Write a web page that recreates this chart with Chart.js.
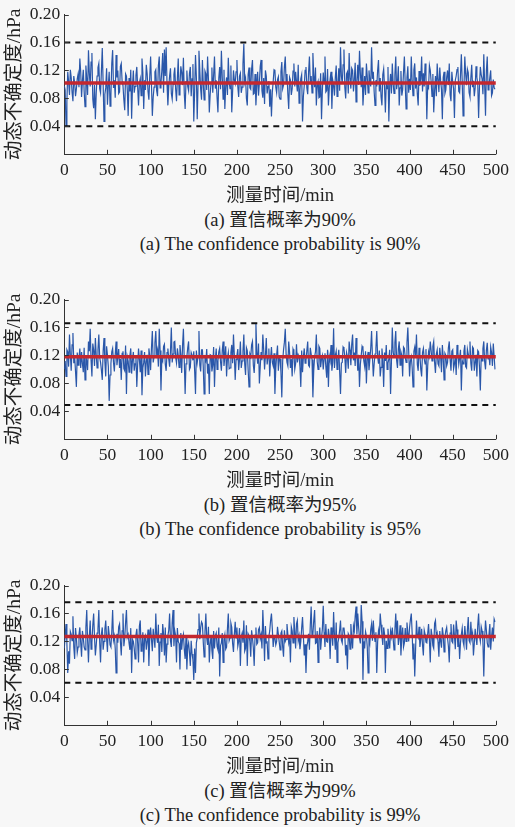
<!DOCTYPE html>
<html><head><meta charset="utf-8">
<script src="https://cdn.jsdelivr.net/npm/chart.js@4.4.1/dist/chart.umd.min.js"></script>
<style>
html,body{margin:0;padding:0;background:#f7f7f7;}
body{width:515px;height:827px;position:relative;overflow:hidden;font-family:"Liberation Serif","Noto Sans CJK SC",serif;color:#222;}
.panel{position:absolute;left:0;width:515px;height:207px;}
.cap{position:absolute;left:60px;width:440px;text-align:center;font-size:18.5px;line-height:22px;white-space:nowrap;}
</style></head><body>
<div class="panel" style="top:0px"><canvas id="ca" width="515" height="207"></canvas></div>
<div class="cap" style="top:209px">(a) 置信概率为90%</div>
<div class="cap" style="top:233px">(a) The confidence probability is 90%</div>
<div class="panel" style="top:285.4px"><canvas id="cb" width="515" height="207"></canvas></div>
<div class="cap" style="top:494.4px">(b) 置信概率为95%</div>
<div class="cap" style="top:518.4px">(b) The confidence probability is 95%</div>
<div class="panel" style="top:571px"><canvas id="cc" width="515" height="207"></canvas></div>
<div class="cap" style="top:780px">(c) 置信概率为99%</div>
<div class="cap" style="top:804px">(c) The confidence probability is 99%</div>
<script>
const SAMPLE_STEP_MIN = 1;
const xTickValues = [0,50,100,150,200,250,300,350,400,450,500];
const yTickValues = [0.04,0.08,0.12,0.16,0.20];
const xTitle = '测量时间/min';
const yTitle = '动态不确定度/hPa';

const seriesA = [
0.098,0.092,0.041,0.075,0.118,0.104,0.085,0.121,0.110,0.089,0.076,0.112,0.102,0.083,0.094,0.108,0.115,0.096,0.137,0.118,
0.082,0.105,0.121,0.090,0.068,0.127,0.108,0.085,0.149,0.116,0.097,0.132,0.145,0.079,0.066,0.099,0.050,0.088,0.112,0.124,
0.130,0.094,0.088,0.119,0.152,0.101,0.047,0.086,0.095,0.123,0.071,0.098,0.118,0.069,0.084,0.130,0.149,0.095,0.106,0.081,
0.142,0.110,0.120,0.087,0.089,0.126,0.130,0.104,0.098,0.078,0.063,0.115,0.112,0.092,0.055,0.109,0.090,0.121,0.051,0.097,
0.120,0.088,0.097,0.113,0.125,0.096,0.070,0.102,0.108,0.084,0.137,0.117,0.065,0.106,0.092,0.128,0.115,0.090,0.078,0.111,
0.140,0.099,0.055,0.082,0.096,0.118,0.121,0.091,0.083,0.127,0.140,0.095,0.102,0.120,0.145,0.088,0.150,0.112,0.153,0.101,
0.070,0.096,0.112,0.123,0.087,0.079,0.100,0.114,0.124,0.093,0.076,0.108,0.137,0.085,0.098,0.126,0.117,0.099,0.138,0.087,
0.065,0.104,0.120,0.097,0.091,0.116,0.125,0.083,0.108,0.129,0.047,0.090,0.142,0.111,0.050,0.102,0.148,0.120,0.093,0.078,
0.135,0.101,0.078,0.119,0.115,0.092,0.140,0.107,0.060,0.086,0.102,0.124,0.088,0.113,0.140,0.094,0.106,0.081,0.060,0.109,
0.125,0.093,0.148,0.110,0.079,0.121,0.065,0.098,0.110,0.085,0.138,0.103,0.094,0.127,0.060,0.090,0.120,0.106,0.101,0.118,
0.135,0.097,0.082,0.112,0.116,0.088,0.096,0.129,0.158,0.103,0.109,0.080,0.070,0.114,0.124,0.095,0.093,0.122,0.135,0.086,
0.087,0.115,0.070,0.098,0.118,0.084,0.102,0.126,0.135,0.091,0.081,0.109,0.072,0.120,0.112,0.087,0.097,0.105,0.068,0.093,
0.054,0.089,0.104,0.121,0.120,0.096,0.088,0.107,0.111,0.082,0.079,0.118,0.132,0.094,0.099,0.125,0.140,0.101,0.115,0.086,
0.065,0.110,0.106,0.085,0.094,0.119,0.130,0.097,0.118,0.104,0.090,0.128,0.073,0.092,0.108,0.114,0.047,0.083,0.098,0.120,
0.125,0.095,0.086,0.117,0.140,0.102,0.112,0.088,0.145,0.113,0.096,0.124,0.070,0.099,0.104,0.081,0.082,0.116,0.050,0.092,
0.117,0.103,0.140,0.089,0.091,0.122,0.070,0.095,0.108,0.118,0.065,0.106,0.099,0.084,0.110,0.127,0.083,0.100,0.123,0.091,
0.153,0.112,0.101,0.128,0.150,0.096,0.080,0.115,0.118,0.087,0.145,0.109,0.094,0.123,0.120,0.090,0.107,0.131,0.075,0.104,
0.128,0.099,0.148,0.116,0.096,0.124,0.070,0.093,0.112,0.085,0.130,0.111,0.088,0.120,0.105,0.097,0.153,0.108,0.118,0.089,
0.070,0.106,0.097,0.120,0.135,0.090,0.109,0.082,0.070,0.114,0.122,0.096,0.060,0.103,0.094,0.125,0.047,0.098,0.115,0.087,
0.130,0.101,0.087,0.113,0.140,0.093,0.103,0.126,0.070,0.095,0.119,0.084,0.092,0.117,0.140,0.099,0.065,0.110,0.126,0.088,
0.108,0.092,0.140,0.105,0.084,0.121,0.130,0.094,0.110,0.086,0.070,0.119,0.098,0.108,0.140,0.090,0.116,0.097,0.130,0.112,
0.050,0.098,0.095,0.127,0.120,0.104,0.083,0.115,0.060,0.091,0.112,0.083,0.130,0.107,0.089,0.124,0.105,0.093,0.050,0.110,
0.118,0.087,0.092,0.110,0.120,0.099,0.130,0.085,0.076,0.118,0.103,0.094,0.052,0.106,0.112,0.121,0.125,0.090,0.088,0.113,
0.143,0.104,0.055,0.093,0.140,0.115,0.099,0.122,0.117,0.088,0.082,0.109,0.128,0.096,0.105,0.083,0.095,0.126,0.110,0.101,
0.052,0.097,0.125,0.114,0.108,0.086,0.143,0.101,0.055,0.119,0.140,0.092,0.097,0.110,0.120,0.084,0.088,0.107,0.095,0.093];
const meanA = 0.102, upperA = 0.160, lowerA = 0.040;

const seriesB = [
0.100,0.112,0.090,0.128,0.125,0.104,0.150,0.121,0.098,0.135,0.152,0.109,0.118,0.097,0.075,0.124,0.106,0.116,0.130,0.102,
0.125,0.108,0.096,0.131,0.085,0.119,0.112,0.099,0.140,0.126,0.158,0.113,0.090,0.137,0.128,0.105,0.145,0.120,0.102,0.128,
0.150,0.117,0.110,0.099,0.085,0.126,0.145,0.111,0.090,0.133,0.120,0.104,0.055,0.092,0.108,0.125,0.130,0.110,0.097,0.121,
0.140,0.106,0.118,0.129,0.102,0.115,0.085,0.123,0.126,0.101,0.098,0.134,0.065,0.118,0.112,0.096,0.120,0.130,0.094,0.113,
0.125,0.098,0.108,0.120,0.075,0.107,0.130,0.114,0.096,0.127,0.063,0.102,0.110,0.125,0.090,0.111,0.121,0.093,0.130,0.119,
0.099,0.131,0.155,0.110,0.118,0.138,0.155,0.122,0.128,0.104,0.158,0.127,0.070,0.116,0.112,0.133,0.136,0.107,0.098,0.124,
0.130,0.115,0.104,0.126,0.160,0.110,0.122,0.139,0.140,0.117,0.109,0.130,0.120,0.103,0.135,0.121,0.095,0.134,0.158,0.112,
0.065,0.108,0.118,0.131,0.140,0.100,0.103,0.124,0.120,0.113,0.126,0.098,0.065,0.127,0.110,0.119,0.155,0.106,0.097,0.128,
0.128,0.103,0.065,0.116,0.112,0.129,0.094,0.108,0.065,0.121,0.120,0.097,0.106,0.132,0.075,0.114,0.130,0.100,0.112,0.125,
0.130,0.111,0.098,0.127,0.140,0.105,0.118,0.133,0.090,0.116,0.124,0.101,0.102,0.124,0.135,0.109,0.150,0.120,0.085,0.114,
0.120,0.129,0.099,0.114,0.140,0.102,0.112,0.126,0.150,0.108,0.092,0.131,0.127,0.099,0.075,0.122,0.118,0.135,0.140,0.106,
0.095,0.118,0.166,0.125,0.108,0.137,0.080,0.104,0.125,0.113,0.150,0.128,0.100,0.119,0.145,0.107,0.118,0.130,0.090,0.116,
0.132,0.110,0.105,0.123,0.065,0.101,0.120,0.134,0.098,0.117,0.115,0.096,0.060,0.112,0.128,0.139,0.158,0.121,0.110,0.105,
0.140,0.124,0.102,0.115,0.090,0.129,0.125,0.100,0.108,0.136,0.110,0.121,0.118,0.104,0.075,0.127,0.096,0.118,0.130,0.109,
0.112,0.127,0.140,0.106,0.104,0.131,0.122,0.114,0.060,0.099,0.118,0.125,0.150,0.111,0.100,0.133,0.130,0.103,0.115,0.120,
0.100,0.116,0.123,0.104,0.088,0.128,0.075,0.119,0.112,0.135,0.098,0.110,0.159,0.102,0.120,0.126,0.100,0.114,0.128,0.097,
0.065,0.109,0.110,0.132,0.130,0.117,0.095,0.124,0.118,0.101,0.140,0.128,0.106,0.136,0.150,0.113,0.124,0.105,0.145,0.122,
0.098,0.121,0.075,0.107,0.120,0.133,0.130,0.112,0.104,0.126,0.080,0.115,0.125,0.099,0.114,0.130,0.155,0.118,0.090,0.108,
0.122,0.130,0.155,0.119,0.108,0.127,0.090,0.103,0.130,0.114,0.075,0.124,0.112,0.135,0.100,0.109,0.115,0.128,0.065,0.111,
0.160,0.125,0.118,0.138,0.155,0.113,0.102,0.129,0.140,0.106,0.125,0.120,0.090,0.132,0.130,0.117,0.110,0.138,0.160,0.126,
0.090,0.112,0.118,0.103,0.075,0.126,0.132,0.118,0.150,0.107,0.098,0.131,0.120,0.100,0.090,0.124,0.130,0.115,0.108,0.129,
0.070,0.104,0.125,0.119,0.140,0.127,0.112,0.133,0.140,0.110,0.095,0.122,0.128,0.108,0.105,0.131,0.118,0.096,0.135,0.117,
0.085,0.123,0.120,0.105,0.110,0.131,0.140,0.114,0.098,0.126,0.128,0.101,0.108,0.119,0.092,0.135,0.125,0.107,0.116,0.128,
0.070,0.113,0.108,0.126,0.135,0.104,0.102,0.129,0.122,0.117,0.140,0.109,0.098,0.132,0.130,0.098,0.110,0.121,0.090,0.127,
0.125,0.103,0.070,0.119,0.112,0.130,0.140,0.111,0.100,0.127,0.138,0.115,0.120,0.106,0.132,0.124,0.105,0.137,0.118,0.100];
const meanB = 0.118, upperB = 0.166, lowerB = 0.049;

const seriesC = [
0.110,0.128,0.145,0.117,0.075,0.106,0.088,0.134,0.130,0.121,0.156,0.112,0.095,0.139,0.125,0.104,0.112,0.130,0.140,0.118,
0.098,0.135,0.125,0.112,0.108,0.140,0.165,0.121,0.090,0.127,0.150,0.109,0.118,0.143,0.160,0.126,0.100,0.115,0.132,0.138,
0.165,0.119,0.090,0.131,0.140,0.108,0.120,0.137,0.150,0.124,0.105,0.142,0.130,0.115,0.112,0.133,0.165,0.122,0.128,0.110,
0.075,0.131,0.118,0.141,0.145,0.120,0.100,0.135,0.160,0.113,0.125,0.147,0.165,0.126,0.130,0.118,0.108,0.139,0.075,0.123,
0.120,0.110,0.095,0.129,0.138,0.117,0.090,0.142,0.150,0.106,0.112,0.133,0.090,0.124,0.128,0.108,0.120,0.137,0.085,0.126,
0.140,0.122,0.106,0.138,0.125,0.111,0.160,0.127,0.118,0.144,0.085,0.119,0.132,0.105,0.145,0.131,0.100,0.140,0.090,0.116,
0.128,0.136,0.160,0.121,0.112,0.147,0.165,0.113,0.135,0.128,0.090,0.139,0.120,0.117,0.080,0.132,0.108,0.124,0.130,0.109,
0.095,0.126,0.080,0.112,0.118,0.104,0.085,0.121,0.102,0.094,0.065,0.110,0.075,0.118,0.125,0.137,0.160,0.123,0.140,0.148,
0.145,0.119,0.098,0.134,0.160,0.125,0.115,0.141,0.090,0.116,0.128,0.107,0.095,0.135,0.110,0.128,0.132,0.113,0.108,0.140,
0.070,0.114,0.118,0.132,0.090,0.123,0.130,0.109,0.112,0.138,0.160,0.121,0.125,0.146,0.140,0.117,0.105,0.130,0.148,0.125,
0.140,0.113,0.120,0.139,0.085,0.127,0.132,0.118,0.150,0.106,0.110,0.143,0.085,0.131,0.128,0.120,0.098,0.136,0.125,0.111,
0.085,0.129,0.140,0.116,0.118,0.137,0.140,0.124,0.130,0.110,0.165,0.133,0.092,0.142,0.118,0.119,0.095,0.127,0.135,0.150,
0.160,0.138,0.112,0.127,0.125,0.115,0.120,0.141,0.130,0.119,0.108,0.132,0.135,0.112,0.098,0.136,0.120,0.123,0.145,0.130,
0.118,0.126,0.090,0.141,0.135,0.118,0.155,0.134,0.110,0.145,0.150,0.121,0.128,0.109,0.120,0.139,0.155,0.127,0.100,0.116,
0.075,0.112,0.120,0.131,0.108,0.143,0.170,0.126,0.130,0.150,0.165,0.117,0.118,0.135,0.090,0.122,0.140,0.108,0.125,0.138,
0.171,0.133,0.112,0.145,0.120,0.119,0.138,0.127,0.095,0.140,0.130,0.114,0.162,0.128,0.108,0.147,0.090,0.118,0.125,0.136,
0.150,0.122,0.118,0.139,0.140,0.127,0.100,0.115,0.080,0.131,0.128,0.109,0.145,0.124,0.110,0.142,0.135,0.156,0.170,0.130,
0.160,0.140,0.125,0.117,0.172,0.149,0.065,0.120,0.110,0.134,0.128,0.112,0.075,0.126,0.118,0.137,0.145,0.121,0.150,0.130,
0.120,0.133,0.075,0.119,0.135,0.126,0.160,0.144,0.128,0.115,0.140,0.131,0.075,0.121,0.110,0.138,0.120,0.110,0.135,0.127,
0.140,0.124,0.108,0.136,0.160,0.129,0.150,0.115,0.125,0.143,0.100,0.126,0.140,0.112,0.118,0.139,0.120,0.147,0.132,0.120,
0.140,0.151,0.160,0.132,0.095,0.117,0.070,0.109,0.150,0.128,0.125,0.141,0.112,0.123,0.138,0.115,0.100,0.136,0.130,0.119,
0.118,0.131,0.145,0.122,0.090,0.138,0.128,0.114,0.110,0.146,0.150,0.127,0.132,0.119,0.098,0.135,0.120,0.111,0.140,0.129,
0.105,0.126,0.135,0.140,0.125,0.113,0.090,0.132,0.145,0.120,0.118,0.144,0.128,0.109,0.150,0.137,0.112,0.128,0.095,0.118,
0.130,0.139,0.120,0.114,0.142,0.127,0.108,0.136,0.155,0.121,0.118,0.148,0.125,0.132,0.100,0.117,0.138,0.125,0.115,0.143,
0.160,0.128,0.120,0.141,0.135,0.119,0.070,0.124,0.150,0.136,0.118,0.112,0.130,0.145,0.108,0.127,0.140,0.120,0.152,0.148];
const meanC = 0.127, upperC = 0.176, lowerC = 0.061;

const FONT_FAMILY = '"Liberation Serif","Noto Sans CJK SC",serif';
const AXIS_COLOR = '#333';

const inwardTicks = {
  id: 'inwardTicks',
  afterDraw(chart) {
    const {ctx, chartArea: a, scales: {x, y}} = chart;
    ctx.save();
    ctx.strokeStyle = AXIS_COLOR;
    ctx.lineWidth = 1;
    ctx.beginPath();
    x.ticks.forEach(t => {
      const px = Math.round(x.getPixelForValue(t.value)) + 0.5;
      ctx.moveTo(px, a.bottom); ctx.lineTo(px, a.bottom - 4.5);
    });
    y.ticks.forEach(t => {
      const py = Math.round(y.getPixelForValue(t.value)) + 0.5;
      ctx.moveTo(a.left, py); ctx.lineTo(a.left + 4.5, py);
    });
    ctx.stroke();
    ctx.restore();
  }
};

function makeChart(id, series, mean, upper, lower) {
  const pts = series.map((v, i) => ({x: i * SAMPLE_STEP_MIN, y: v}));
  const hline = v => [{x: 0, y: v}, {x: 500, y: v}];
  const H = 207;
  new Chart(document.getElementById(id), {
    type: 'line',
    data: {
      datasets: [
        {data: hline(mean), borderColor: '#c4272e', borderWidth: 3.5, pointRadius: 0, order: 0},
        {data: hline(upper), borderColor: '#111', borderWidth: 2, borderDash: [6, 5], pointRadius: 0, order: 1},
        {data: hline(lower), borderColor: '#111', borderWidth: 2, borderDash: [6, 5], pointRadius: 0, order: 1},
        {data: pts, borderColor: '#2a57a9', borderWidth: 1.2, pointRadius: 0, order: 2}
      ]
    },
    options: {
      responsive: false,
      animation: false,
      events: [],
      layout: {padding: {top: 12.3, right: 15, bottom: 0, left: 0}},
      plugins: {legend: {display: false}, tooltip: {enabled: false}},
      scales: {
        x: {
          type: 'linear', min: 0, max: 500,
          afterBuildTicks: s => { s.ticks = xTickValues.map(v => ({value: v})); },
          afterFit: s => { s.height = H - 154.3; },
          grid: {display: false, drawTicks: false},
          border: {display: true, color: AXIS_COLOR, width: 1},
          ticks: {padding: 6, maxRotation: 0, autoSkip: false, color: '#222',
                  font: {family: FONT_FAMILY, size: 17.5}, callback: v => String(v)},
          title: {display: true, text: xTitle, color: '#222', padding: {top: 0, bottom: 0},
                  font: {family: FONT_FAMILY, size: 18.5}}
        },
        y: {
          type: 'linear', min: 0, max: 0.2,
          afterBuildTicks: s => { s.ticks = yTickValues.map(v => ({value: v})); },
          afterFit: s => { s.width = 64.3; },
          grid: {display: false, drawTicks: false},
          border: {display: true, color: AXIS_COLOR, width: 1},
          ticks: {padding: 4, color: '#222', font: {family: FONT_FAMILY, size: 17.5},
                  callback: v => v.toFixed(2)},
          title: {display: true, text: yTitle, color: '#222', padding: {top: 3, bottom: 0},
                  font: {family: FONT_FAMILY, size: 19.5}}
        }
      }
    },
    plugins: [inwardTicks]
  });
}

makeChart('ca', seriesA, meanA, upperA, lowerA);
makeChart('cb', seriesB, meanB, upperB, lowerB);
makeChart('cc', seriesC, meanC, upperC, lowerC);
</script>
</body></html>
